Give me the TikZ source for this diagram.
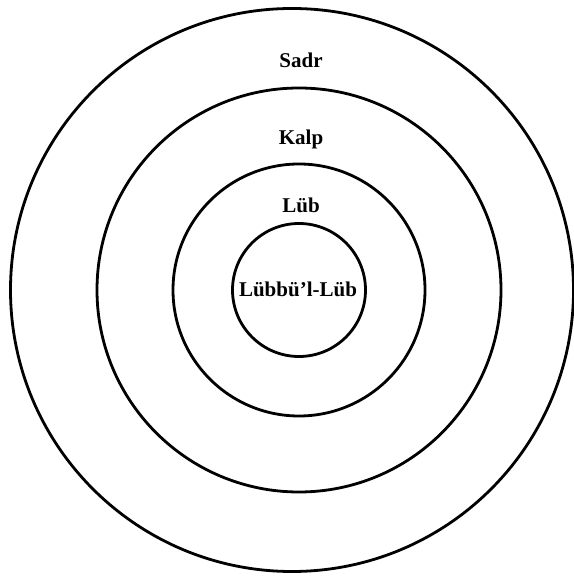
\documentclass[tikz,border=0pt]{standalone}
\usepackage{fontspec}
\setmainfont{Liberation Serif}
\usepackage{tikz}
\usetikzlibrary{positioning}

\begin{document}
\begin{tikzpicture}[
    x=1pt, y=1pt,
    ring/.style={draw, circle, line width=2.8pt, inner sep=0pt},
    lbl/.style={font=\bfseries\fontsize{21}{23}\selectfont, inner sep=1pt},
]
\useasboundingbox (0,0) rectangle (573,583);

% rings, outermost first
\node[ring, minimum size=563pt] (sadr) at (292,293) {};
\node[ring, minimum size=404pt] (kalp) at (299,293) {};
\node[ring, minimum size=252pt] (lub) at (299,293) {};
\node[ring, minimum size=133pt] (core) at (299,293) {};

\node[lbl] (tsadr) at (301,523) {Sadr};
\node[lbl] (tkalp) at (301,444) {Kalp};
\node[lbl] (tlub) at (301,378) {Lüb};
\node[lbl] (tcore) at (298,294) {Lübbü'l-Lüb};

\end{tikzpicture}
\end{document}
